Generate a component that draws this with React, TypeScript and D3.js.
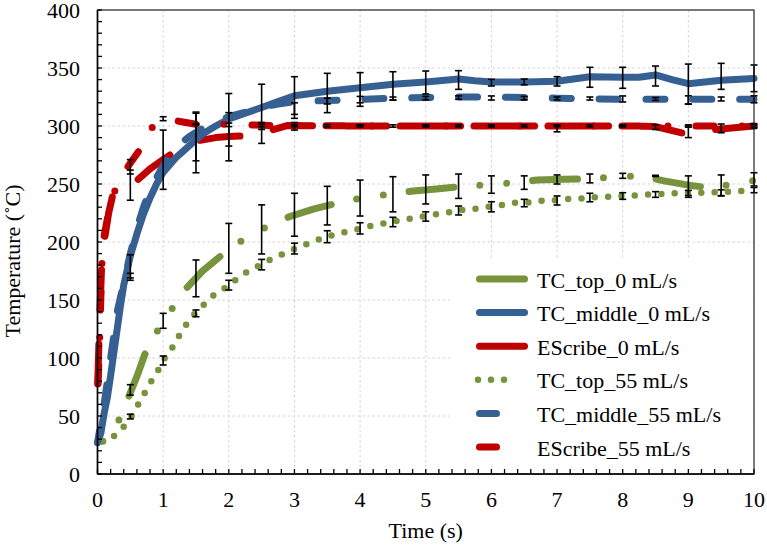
import React from 'react';
import * as d3 from 'd3';

type P = [number, number];
type E = [number, number, number];

// ---------- data (time s, temperature °C) ----------
const tcTop0: P[] = [[0,25],[0.15,31],[0.3,43],[0.45,63],[0.6,84],[0.72,103],[0.91,123],[1.13,142],[1.35,160],[1.6,175],[1.9,189],[2.21,201.7],[2.57,213],[2.93,222],[3.3,228.5],[3.65,233.5],[4.02,238],[4.43,241],[4.81,244],[5.2,246],[5.57,248],[5.95,249.5],[6.35,251],[6.7,253.5],[7.1,254],[7.5,254.5],[7.87,256],[8.28,257],[8.65,252.5],[9.0,249],[9.37,246.5],[9.76,251],[10,253]];
const tcMid0: P[] = [[0,27],[0.05,35],[0.1,52],[0.15,66],[0.2,85],[0.25,105],[0.3,125],[0.35,145],[0.4,163],[0.5,188],[0.6,207],[0.7,224],[0.8,238],[0.9,250],[1.0,260],[1.2,273],[1.4,283],[1.6,293],[1.8,300],[2.0,306],[2.25,311],[2.5,316],[2.75,321],[3.0,326],[3.25,328],[3.5,330],[4.0,333],[4.5,336],[5.0,338],[5.5,340.5],[5.75,339],[6.0,338],[6.5,338],[7.0,338.5],[7.5,342.5],[8.0,342],[8.25,342],[8.5,344],[8.75,340],[9.0,336.5],[9.25,338],[9.5,339.5],[10,341]];
const eScribe0: P[] = [[0,70],[0.03,130],[0.06,175],[0.1,200],[0.17,225],[0.25,245],[0.4,249],[0.58,252],[0.8,263],[1.0,271],[1.18,278],[1.35,283],[1.5,287],[1.8,290],[2.0,291],[2.25,291.5],[2.45,293],[2.65,296.5],[2.9,300.5],[3.5,300],[4,300],[4.5,300],[5,300],[5.5,300],[6,300],[6.5,300],[7,300],[7.5,300],[8,300],[8.5,299.5],[8.9,294],[9.3,296.5],[9.7,298.5],[10,300]];
const tcTop55: P[] = [[0,27],[0.06,28],[0.24,32],[0.39,40],[0.51,49],[0.61,59],[0.71,69],[0.81,79],[0.92,89],[1.0,98],[1.13,108],[1.23,118],[1.34,128],[1.47,137.5],[1.61,145.5],[1.74,153],[1.93,160],[2.1,167],[2.26,173.5],[2.43,178.7],[2.62,184.5],[2.8,189],[3.0,194],[3.18,198],[3.36,202],[3.56,205.5],[3.76,208.5],[3.96,211],[4.15,213.8],[4.35,216],[4.55,218],[4.75,220],[4.95,222],[5.16,224],[5.36,225.6],[5.55,227.6],[5.75,228.7],[5.96,230.5],[6.16,232],[6.36,233.9],[6.56,234],[6.77,235.6],[6.97,236],[7.17,237],[7.38,237.6],[7.58,238.5],[7.78,239],[7.98,239.6],[8.19,240.2],[8.39,241],[8.59,241.4],[8.8,242],[9.2,242.5],[9.41,242.8],[9.61,243.4],[9.81,244],[10,244.8]];
const tcMid55: P[] = [[0,27],[0.1,60],[0.2,100],[0.3,140],[0.4,165],[0.5,190],[0.6,212],[0.7,230],[0.8,245],[1.0,266],[1.2,282],[1.4,291],[1.6,298],[1.8,304],[2.0,308],[2.25,312],[2.5,316],[2.75,319],[3.0,321],[3.5,322],[4.0,323],[4.5,324],[5.0,324.5],[5.5,325],[6.0,325],[6.5,324.5],[7,324],[8,323],[9,323],[10,323]];
const eScribe55: P[] = [[0,65],[0.03,110],[0.05,150],[0.07,185],[0.1,205],[0.15,220],[0.2,233],[0.27,245],[0.35,255],[0.45,264],[0.55,272],[0.65,280],[0.75,292],[0.85,300],[1.0,304],[1.15,305],[1.3,303.5],[1.5,301.5],[1.9,301.5],[2.3,301],[2.6,300.5],[3,300.5],[4,300],[5,300],[6,300],[7,300],[8,300],[9,300],[10,300]];

// error bars: [time, low, high]
const errTop0: E[] = [[0.5,68,77],[1.0,125.6,138.5],[1.5,152.8,184.5],[2.0,173,216],[2.5,189.7,232],[3.0,205,242],[3.5,214.7,248],[4.0,222.4,253.4],[4.5,226,256.3],[5.0,232.8,257.8],[5.5,237.6,258.6],[6.0,242,257],[6.5,245.4,257],[7.0,250,257.8],[7.5,251,258.6],[8.0,254.9,259.2],[8.5,256.5,257.5],[9.0,238.5,257],[9.5,239.7,257.8],[10,248.3,259.7]];
const errTop55: E[] = [[0.5,47.5,51.5],[1.0,94,101.7],[1.5,135.6,141.4],[2.0,158.6,167],[2.5,176,185],[3.0,189.7,199],[3.5,199.4,209.7],[4.0,206.9,216.6],[4.5,213.2,221.3],[5.0,218,226],[5.5,223.3,231],[6.0,226,234.7],[6.5,230.4,236.8],[7.0,231.9,239.7],[7.5,234.7,242],[8.0,236.8,242.5],[8.5,238.5,243.4],[9.0,240,244.5],[9.5,240,245],[10,242.5,247]];
const errMid0: E[] = [[0.5,167,189],[1.5,259.7,312],[2.0,282.7,328],[2.5,297,336],[3.0,310,342.5],[3.5,311.5,345.4],[4.0,317,346],[4.5,322.4,346.8],[5.0,327.6,347.4],[5.5,331.6,347.7],[6.0,334.5,340.2],[6.5,335.5,340.5],[7.0,334.5,342.5],[7.5,333.4,350.6],[8.0,332.5,350.6],[8.5,334.5,351.7],[9.0,318.9,353.4],[9.5,331.6,354],[10,329.6,352.6]];
const errMid55: E[] = [[0.5,169,173],[3.0,306.6,320],[3.5,319,324],[4.0,320,325.5],[4.5,322.4,325],[5.0,322.5,325.5],[5.5,323,326],[6.0,322.4,325.9],[6.5,322.5,325.5],[7.0,322.5,325],[7.5,322.4,325],[8.0,320.7,325.9],[8.5,322,324.5],[9.0,318.9,326],[9.5,321.6,325],[10,320,326]];
const errEs0: E[] = [[0.5,236,271],[1.0,245.4,296.5],[1.5,270,302],[2.0,270,311.5],[2.5,285,303],[3.0,296.5,303],[3.5,299.3,301.3],[4.0,299.3,301],[4.5,299,301],[5.0,299.3,301],[5.5,299.3,301],[6.0,299.3,301],[6.5,299.3,301],[7.0,295,300.9],[7.5,299.3,301],[8.0,299.3,301],[8.5,297,301],[9.0,290,300],[9.5,294.2,301.7],[10,298,302]];
const errEs55: E[] = [[0.5,258.6,262],[1.0,304.6,308],[1.5,301,311],[2.0,299.5,302.5],[2.5,299.5,301.5],[3.0,299.5,301],[4.0,299.5,300.5],[5.0,299.5,300.5],[6.0,299.5,300.5],[7.0,299.5,300.5],[8.0,299.5,300.5],[9.0,299,301],[10,299,301]];

const xTicks = [0,1,2,3,4,5,6,7,8,9,10];
const yTicks = [0,50,100,150,200,250,300,350,400];
const legendNames = ['TC_top_0 mL/s','TC_middle_0 mL/s','EScribe_0 mL/s','TC_top_55 mL/s','TC_middle_55 mL/s','EScribe_55 mL/s'];

// ---------- layout ----------
const W = 767, H = 546;
const L = 97.5, T = 10, R = 754, B = 474;
const GREEN = '#77933C', BLUE = '#376092', RED = '#C00000';
const txt = { fontFamily: "'Liberation Serif'" };

export default function App() {
  const x = d3.scaleLinear().domain([0, 10]).range([L, R]);
  const y = d3.scaleLinear().domain([0, 400]).range([B, T]);
  const line = d3.line<P>().x(d => x(d[0])).y(d => y(d[1]));

  const offsetFor = (pts: P[], tA: number, dash: number[]) => {
    const period = dash.reduce((a, b) => a + b, 0);
    let len = 0;
    for (let i = 1; i < pts.length; i++) {
      const [t0, v0] = pts[i - 1], [t1, v1] = pts[i];
      const seg = Math.hypot(x(t1) - x(t0), y(v1) - y(v0));
      if (tA <= t1) { len += seg * (tA - t0) / (t1 - t0); break; }
      len += seg;
    }
    return (period - (len % period)) % period;
  };

  const series = [
    { data: eScribe0, color: RED, w: 7, dash: [40, 34], anchor: 0.62 },
    { data: tcTop0, color: GREEN, w: 7, dash: [45, 26, 0, 27, 0, 26], anchor: 0.48 },
    { data: tcMid0, color: BLUE, w: 7, dash: null as number[] | null, anchor: 0 },
    { data: tcTop55, color: GREEN, w: 6.5, dash: [0, 13.33], anchor: 6.16 },
    { data: tcMid55, color: BLUE, w: 7, dash: [19, 27.85], anchor: 3.36 },
    { data: eScribe55, color: RED, w: 7, dash: [18, 28, 0, 28], anchor: 1.23 },
  ];

  const errs = [errTop0, errMid0, errEs0, errTop55, errMid55, errEs55];

  const legendItems = [
    { color: GREEN, w: 7, x1: 479.5, x2: 524.5, dash: null as string | null },
    { color: BLUE, w: 7, x1: 479.5, x2: 524.5, dash: null },
    { color: RED, w: 7, x1: 479.5, x2: 524.5, dash: null },
    { color: GREEN, w: 6.5, x1: 478, x2: 517, dash: '0 13' },
    { color: BLUE, w: 7, x1: 479.5, x2: 496.5, dash: null },
    { color: RED, w: 7, x1: 479.5, x2: 496.5, dash: null },
  ];

  const minorY = d3.range(0, 401, 10);
  const minorX = d3.range(0, 10.001, 0.2);

  return (
    <svg width={W} height={H} style={{ position: 'absolute', left: 0, top: 0, background: '#fff' }}>
      <rect x={0} y={0} width={W} height={H} fill="#fff" />
      {/* grid */}
      {yTicks.filter(v => v > 0 && v < 400).map(v => (
        <line key={'gy' + v} x1={L} x2={R} y1={y(v)} y2={y(v)} stroke="#d4d4d4" strokeWidth={1} strokeDasharray="2.5 2.5" />
      ))}
      {xTicks.filter(v => v > 0 && v < 10).map(v => (
        <line key={'gx' + v} x1={x(v)} x2={x(v)} y1={T} y2={B} stroke="#d4d4d4" strokeWidth={1} strokeDasharray="2.5 2.5" />
      ))}
      {/* legend background */}
      <rect x={452} y={260} width={R - 452 - 1} height={B - 260 - 1} fill="#fff" />
      {/* series */}
      {series.map((s, i) => (
        <path key={'s' + i} d={line(s.data) || ''} fill="none" stroke={s.color} strokeWidth={s.w}
          strokeLinecap="round" strokeLinejoin="round"
          strokeDasharray={s.dash ? s.dash.join(' ') : undefined}
          strokeDashoffset={s.dash ? offsetFor(s.data, s.anchor, s.dash) : undefined} />
      ))}
      {/* error bars */}
      {errs.map((arr, si) => arr.map((e, j) => (
        <g key={'e' + si + '-' + j} stroke="#000" strokeWidth={1.6}>
          <line x1={x(e[0])} x2={x(e[0])} y1={y(e[1])} y2={y(e[2])} />
          <line x1={x(e[0]) - 3.5} x2={x(e[0]) + 3.5} y1={y(e[1])} y2={y(e[1])} />
          <line x1={x(e[0]) - 3.5} x2={x(e[0]) + 3.5} y1={y(e[2])} y2={y(e[2])} />
        </g>
      )))}
      {/* frame */}
      <rect x={L} y={T} width={R - L} height={B - T} fill="none" stroke="#222" strokeWidth={1.2} />
      <line x1={L} x2={L} y1={T} y2={B} stroke="#000" strokeWidth={1.6} />
      <line x1={L} x2={R} y1={B} y2={B} stroke="#000" strokeWidth={1.6} />
      {/* ticks */}
      {minorY.map(v => (
        <line key={'ty' + v} x1={L} x2={L + 4.5} y1={y(v)} y2={y(v)} stroke="#000" strokeWidth={1.3} />
      ))}
      {minorX.map(v => (
        <line key={'tx' + v.toFixed(1)} x1={x(v)} x2={x(v)} y1={B} y2={B - 5} stroke="#000" strokeWidth={1.3} />
      ))}
      {yTicks.map(v => (
        <text key={'ly' + v} x={80} y={y(v) + 7.5} textAnchor="end" fontSize={22} fill="#000" style={txt}>{v}</text>
      ))}
      {xTicks.map(v => (
        <text key={'lx' + v} x={x(v)} y={507} textAnchor="middle" fontSize={22} fill="#000" style={txt}>{v}</text>
      ))}
      <text x={(L + R) / 2} y={538} textAnchor="middle" fontSize={22} fill="#000" style={txt}>Time (s)</text>
      <text transform={`translate(20,261) rotate(-90)`} textAnchor="middle" fontSize={22} fill="#000" style={txt}>Temperature (˚C)</text>
      {/* legend */}
      {legendNames.map((name, i) => {
        const ly = 279 + i * 33.6;
        const it = legendItems[i];
        return (
          <g key={'lg' + i}>
            <line x1={it.x1} x2={it.x2} y1={ly} y2={ly} stroke={it.color} strokeWidth={it.w} strokeLinecap="round" strokeDasharray={it.dash || undefined} />
            <text x={537} y={ly + 8.5} fontSize={22} fill="#000" style={txt}>{name}</text>
          </g>
        );
      })}
    </svg>
  );
}
